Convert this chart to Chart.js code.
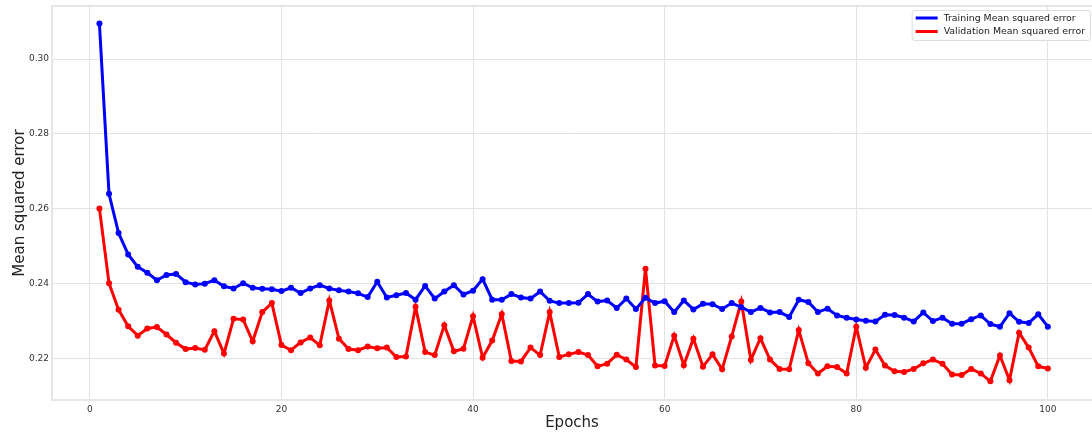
<!DOCTYPE html>
<html>
<head>
<meta charset="utf-8">
<script src="https://cdn.jsdelivr.net/npm/chart.js@4.4.1/dist/chart.umd.min.js"></script>
<style>
  html, body { margin: 0; padding: 0; background: #fff; overflow: hidden; }
  #wrap { width: 1092px; height: 432px; }
</style>
</head>
<body>
<div id="wrap"><canvas id="chart"></canvas></div>
<script>
// epochs 1..100
const epochs = Array.from({ length: 100 }, (_, i) => i + 1);

const trainMse = [
  0.3095, 0.2640, 0.2535, 0.2478, 0.2445, 0.2429, 0.2409, 0.2423, 0.2426, 0.2404,
  0.2398, 0.2400, 0.2409, 0.2393, 0.2387, 0.2401, 0.2389, 0.2386, 0.2385, 0.2380,
  0.2389, 0.2375, 0.2387, 0.2396, 0.2387, 0.2382, 0.2379, 0.2374, 0.2364, 0.2405,
  0.2363, 0.2369, 0.2375, 0.2357, 0.2394, 0.2360, 0.2379, 0.2396, 0.2371, 0.2381,
  0.2412, 0.2357, 0.2357, 0.2372, 0.2363, 0.2360, 0.2379, 0.2354, 0.2348, 0.2348,
  0.2349, 0.2372, 0.2352, 0.2355, 0.2335, 0.2360, 0.2332, 0.2362, 0.2348, 0.2353,
  0.2324, 0.2355, 0.2331, 0.2346, 0.2345, 0.2332, 0.2348, 0.2337, 0.2324, 0.2335,
  0.2323, 0.2324, 0.2311, 0.2357, 0.2351, 0.2324, 0.2333, 0.2315, 0.2309, 0.2304,
  0.2301, 0.2299, 0.2317, 0.2316, 0.2309, 0.2299, 0.2323, 0.2300, 0.2309, 0.2293,
  0.2293, 0.2305, 0.2315, 0.2292, 0.2285, 0.2321, 0.2298, 0.2295, 0.2318, 0.2285
];

const valMse = [
  0.2601, 0.2401, 0.2330, 0.2286, 0.2261, 0.2280, 0.2284, 0.2264, 0.2242, 0.2225,
  0.2228, 0.2223, 0.2273, 0.2213, 0.2306, 0.2304, 0.2246, 0.2324, 0.2348, 0.2236,
  0.2222, 0.2243, 0.2256, 0.2235, 0.2355, 0.2253, 0.2225, 0.2222, 0.2232, 0.2227,
  0.2229, 0.2204, 0.2205, 0.2338, 0.2217, 0.2209, 0.2289, 0.2219, 0.2226, 0.2313,
  0.2202, 0.2248, 0.2319, 0.2193, 0.2192, 0.2229, 0.2209, 0.2324, 0.2204, 0.2211,
  0.2217, 0.2209, 0.2179, 0.2186, 0.2210, 0.2197, 0.2177, 0.2440, 0.2181, 0.2180,
  0.2261, 0.2182, 0.2253, 0.2178, 0.2211, 0.2171, 0.2259, 0.2352, 0.2196, 0.2254,
  0.2197, 0.2172, 0.2171, 0.2276, 0.2187, 0.2160, 0.2179, 0.2177, 0.2160, 0.2285,
  0.2175, 0.2224, 0.2181, 0.2166, 0.2164, 0.2172, 0.2187, 0.2197, 0.2186, 0.2157,
  0.2156, 0.2172, 0.2160, 0.2139, 0.2208, 0.2142, 0.2269, 0.2229, 0.2179, 0.2173
];

const xTicks = [0, 20, 40, 60, 80, 100];
const yTicks = [0.22, 0.24, 0.26, 0.28, 0.30];

const seriesNames = ["Training Mean squared error", "Validation Mean squared error"];
const seriesColors = ["#0000ff", "#ff0000"];

const FONT = "'DejaVu Sans', sans-serif";
const gridColor = "#e3e3e3";
const frameColor = "#e6e6e6";

// top spine + matplotlib-like legend box
const frameAndLegend = {
  id: "frameAndLegend",
  beforeDatasetsDraw(chart) {
    const { ctx, chartArea } = chart;
    ctx.save();
    ctx.strokeStyle = frameColor;
    ctx.lineWidth = 2;
    ctx.beginPath();
    ctx.moveTo(chartArea.left, chartArea.top);
    ctx.lineTo(chartArea.right, chartArea.top);
    ctx.stroke();
    ctx.restore();
  },
  afterDatasetsDraw(chart) {
    const { ctx } = chart;
    ctx.save();
    ctx.font = "9.4px " + FONT;
    const textW = Math.max(...seriesNames.map((s) => ctx.measureText(s).width));
    const right = chart.width - 2;
    const top = 10;
    const lineLen = 22;
    const boxW = 4 + lineLen + 6 + textW + 5;
    const boxH = 30;
    const left = right - boxW;
    ctx.fillStyle = "rgba(255,255,255,0.85)";
    ctx.strokeStyle = "#dddddd";
    ctx.lineWidth = 1;
    ctx.beginPath();
    ctx.roundRect(left + 0.5, top + 0.5, boxW, boxH, 3);
    ctx.fill();
    ctx.stroke();
    seriesNames.forEach((name, i) => {
      const y = top + 8 + i * 13.5;
      ctx.strokeStyle = seriesColors[i];
      ctx.lineWidth = 3;
      ctx.beginPath();
      ctx.moveTo(left + 4, y);
      ctx.lineTo(left + 4 + lineLen, y);
      ctx.stroke();
      ctx.fillStyle = "#222";
      ctx.textBaseline = "middle";
      ctx.fillText(name, left + 4 + lineLen + 6, y + 0.5);
    });
    ctx.restore();
  },
};

const makeData = (vals) => epochs.map((e, i) => ({ x: e, y: vals[i] }));

new Chart(document.getElementById("chart"), {
  type: "line",
  data: {
    datasets: [
      {
        label: seriesNames[0],
        data: makeData(trainMse),
        borderColor: seriesColors[0],
        backgroundColor: seriesColors[0],
        borderWidth: 3,
        pointRadius: 3,
        pointBorderWidth: 0,
        tension: 0,
      },
      {
        label: seriesNames[1],
        data: makeData(valMse),
        borderColor: seriesColors[1],
        backgroundColor: seriesColors[1],
        borderWidth: 3,
        pointRadius: 3,
        pointBorderWidth: 0,
        tension: 0,
      },
    ],
  },
  options: {
    responsive: true,
    maintainAspectRatio: false,
    animation: false,
    layout: { autoPadding: false, padding: { top: 6, right: 0, left: 0, bottom: 0 } },
    plugins: {
      legend: { display: false },
      tooltip: { enabled: false },
    },
    scales: {
      x: {
        type: "linear",
        min: -3.95,
        max: 104.61,
        afterBuildTicks: (scale) => {
          scale.ticks = xTicks.map((v) => ({ value: v }));
        },
        afterFit: (scale) => {
          scale.height = 32;
          scale.paddingLeft = 0;
          scale.paddingRight = 0;
        },
        grid: { color: gridColor, lineWidth: 1, drawTicks: false },
        border: { color: frameColor, width: 2 },
        ticks: {
          color: "#333",
          font: { family: FONT, size: 9 },
          padding: 4,
          maxRotation: 0,
          callback: (v) => String(v),
        },
        title: {
          display: true,
          text: "Epochs",
          color: "#222",
          font: { family: FONT, size: 15 },
          padding: { top: 1, bottom: 0 },
        },
      },
      y: {
        min: 0.2089,
        max: 0.3142,
        afterBuildTicks: (scale) => {
          scale.ticks = yTicks.map((v) => ({ value: v }));
        },
        afterFit: (scale) => {
          scale.width = 52;
          scale.paddingTop = 0;
          scale.paddingBottom = 0;
        },
        grid: { color: gridColor, lineWidth: 1, drawTicks: false },
        border: { color: frameColor, width: 2 },
        ticks: {
          color: "#333",
          font: { family: FONT, size: 9 },
          padding: 3,
          callback: (v) => v.toFixed(2),
        },
        title: {
          display: true,
          text: "Mean squared error",
          color: "#222",
          font: { family: FONT, size: 15 },
          padding: { top: 11, bottom: 4 },
        },
      },
    },
  },
  plugins: [frameAndLegend],
});
</script>
</body>
</html>
